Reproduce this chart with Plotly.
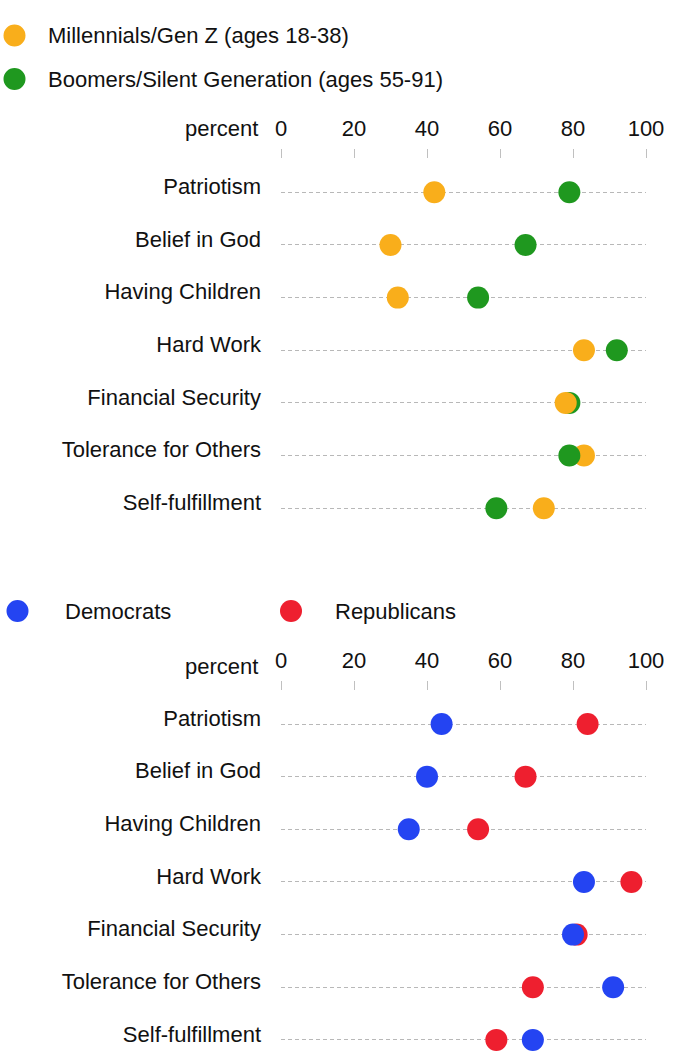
import plotly.graph_objects as go
import numpy as np

categories = ["Patriotism", "Belief in God", "Having Children", "Hard Work",
              "Financial Security", "Tolerance for Others", "Self-fulfillment"]
millennials = [42, 30, 32, 83, 78, 83, 72]
boomers = [79, 67, 54, 92, 79, 79, 59]
democrats = [44, 40, 35, 83, 80, 91, 69]
republicans = [84, 67, 54, 96, 81, 69, 59]
x_ticks = [0, 20, 40, 60, 80, 100]

W, H = 680, 1062
L, R = 281, 34
PW = W - L - R

def px(x):
    return (x - L) / PW

def py(y):
    return 1 - y / H

FONT = "Liberation Sans, Arial, Helvetica, sans-serif"
C_ORANGE = "#F9AE1B"
C_GREEN = "#1F981F"
C_BLUE = "#2444F2"
C_RED = "#EE1F2F"

fig = go.Figure()

def add_panel(a_name, a_vals, a_col, b_name, b_vals, b_col, xa, ya):
    a = np.array(a_vals, dtype=float)
    b = np.array(b_vals, dtype=float)
    cats = np.array(categories)
    # draw larger value first so the smaller one sits on top
    layers = [
        (a_name, a_col, a >= b, a),
        (b_name, b_col, b > a, b),
        (a_name, a_col, a < b, a),
        (b_name, b_col, b <= a, b),
    ]
    for name, col, mask, vals in layers:
        fig.add_trace(go.Scatter(
            x=vals[mask], y=cats[mask], mode="markers", name=name,
            marker=dict(size=22, color=col, line=dict(width=0)),
            xaxis=xa, yaxis=ya, showlegend=False, cliponaxis=False,
            hoverinfo="x+y+name"))

add_panel("Millennials/Gen Z (ages 18-38)", millennials, C_ORANGE,
          "Boomers/Silent Generation (ages 55-91)", boomers, C_GREEN, "x", "y")
add_panel("Democrats", democrats, C_BLUE,
          "Republicans", republicans, C_RED, "x2", "y2")

xcommon = dict(range=[0, 100], tickvals=x_ticks, side="top", showgrid=False,
               zeroline=False, showline=False, ticks="outside", ticklen=9,
               tickwidth=1, tickcolor="#c0c0c0", ticklabelstandoff=4,
               tickfont=dict(size=22, color="#111111", family=FONT),
               fixedrange=True)
ycommon = dict(type="category", categoryorder="array", categoryarray=categories,
               showgrid=True, gridcolor="#b8b8b8", griddash="4px,3px", gridwidth=1,
               zeroline=False, showline=False, ticks="", ticklabelstandoff=19,
               ticklabelshift=6,
               tickfont=dict(size=22, color="#111111", family=FONT),
               fixedrange=True)

top_t, top_b = 159, 534
bot_t, bot_b = 691, 1062
sp = 52.65
r0_top, r0_bot = 192.3, 724.0

fig.update_layout(
    width=W, height=H,
    margin=dict(l=L, r=R, t=0, b=0),
    paper_bgcolor="white", plot_bgcolor="white",
    font=dict(family=FONT, size=22, color="#111111"),
    showlegend=False,
    xaxis=dict(**xcommon, anchor="y"),
    yaxis=dict(**ycommon, domain=[py(top_b), py(top_t)],
               range=[(top_b - r0_top) / sp, (top_t - r0_top) / sp]),
    xaxis2=dict(**xcommon, anchor="y2"),
    yaxis2=dict(**ycommon, domain=[py(bot_b), py(bot_t)],
                range=[(bot_b - r0_bot) / sp, (bot_t - r0_bot) / sp]),
)

# "percent" unit labels
for yy in (128, 666):
    fig.add_annotation(text="percent", xref="paper", yref="paper",
                       x=px(260), y=py(yy), xanchor="right", yanchor="middle",
                       showarrow=False, font=dict(size=22, color="#111111", family=FONT))

# legends
legend_items = [
    ("Millennials/Gen Z (ages 18-38)", C_ORANGE, 14.5, 35.5, 46),
    ("Boomers/Silent Generation (ages 55-91)", C_GREEN, 14.5, 79, 46),
    ("Democrats", C_BLUE, 17.5, 611, 63),
    ("Republicans", C_RED, 291, 611, 333),
]
for text, col, cx, cy, tx in legend_items:
    fig.add_shape(type="circle", xref="paper", yref="paper",
                  xsizemode="pixel", ysizemode="pixel",
                  xanchor=px(cx), yanchor=py(cy),
                  x0=-11, x1=11, y0=-11, y1=11,
                  fillcolor=col, line=dict(width=0), layer="above")
    fig.add_annotation(text=text, xref="paper", yref="paper",
                       x=px(tx), y=py(cy), xanchor="left", yanchor="middle",
                       showarrow=False, font=dict(size=22, color="#111111", family=FONT))

fig.write_html("out.html")
